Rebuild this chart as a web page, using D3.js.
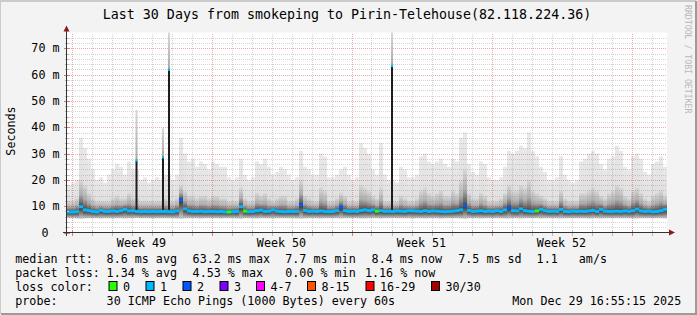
<!DOCTYPE html>
<html>
<head>
<meta charset="utf-8">
<script src="https://cdn.jsdelivr.net/npm/d3@7"></script>
<style>
  html, body { margin: 0; padding: 0; background: #f3f3f3; }
  svg text { font-family: "DejaVu Sans Mono", monospace; }
</style>
</head>
<body>
<svg id="chart" width="697" height="315"></svg>
<script>
// 150 consolidated columns over 30 days (ms)
const maxPing = [
  18,19,20,36,32,28,24,20,21,19, 22,24,26,25,22,27,24,24,20,21,
  19,20,21,20,22,22,20,22,36,30, 27,28,25,27,26,24,27,26,25,25,
  21,20,21,28,22,20,21,27,26,28, 25,22,23,25,24,22,20,21,31,25,
  24,22,22,30,29,21,21,22,24,25, 22,20,21,34,32,30,24,22,34,22,
  20,20,19,25,24,21,21,22,29,30, 27,26,27,28,26,25,28,27,36,38,
  26,23,22,27,26,21,20,20,21,25, 31,30,31,33,32,38,31,29,25,23,
  20,20,21,29,22,20,19,20,27,28, 30,31,30,26,24,28,29,33,31,25,
  24,29,30,28,23,22,26,27,29,25
];
const midPing = [
  12,12,13,20,18,15,13,12,12,12, 12,13,14,13,13,15,13,13,12,12,
  12,12,12,12,13,12,12,13,18,16, 14,14,13,14,14,13,14,14,13,13,
  12,12,12,17,13,12,12,15,14,15, 13,12,13,14,14,12,12,13,20,14,
  13,12,12,17,16,12,12,13,15,14, 12,12,12,18,17,16,14,13,17,12,
  12,12,12,14,13,12,12,13,16,17, 15,14,15,16,14,14,16,15,20,24,
  15,13,13,15,14,12,12,12,13,15, 18,16,16,18,17,20,16,15,14,13,
  12,12,12,16,13,12,12,12,15,15, 16,17,16,14,13,15,16,18,17,14,
  13,16,17,15,13,12,14,15,16,14
];
const medianPing = [
  7.8,7.8,7.9,9.8,8.6,8.3,8.0,7.8,8.4,8.0, 8.0,8.2,8.0,8.3,8.8,8.2,8.3,8.0,7.9,8.0,
  7.9,8.0,7.9,8.0,8.0,7.9,7.8,8.2,12.5,9.0, 8.2,8.0,8.0,8.1,7.9,8.0,8.0,7.9,8.0,7.8,
  7.8,7.9,8.0,9.8,8.1,7.9,8.0,8.3,8.5,8.0, 8.1,8.6,8.1,8.0,7.9,8.0,8.0,8.0,10.5,8.4,
  8.0,8.1,8.0,8.2,8.0,7.9,8.0,8.3,9.6,8.3, 8.0,8.1,8.0,8.4,8.6,8.3,8.6,8.1,8.3,8.0,
  8.1,8.0,8.2,8.1,8.0,8.3,8.2,8.1,8.0,8.3, 8.0,8.2,8.1,8.0,7.9,8.0,8.1,8.3,8.6,10.2,
  8.4,8.0,8.1,8.3,8.0,8.1,8.0,8.3,8.0,8.6, 9.4,8.3,8.2,9.0,8.3,8.1,8.0,8.2,8.8,8.3,
  8.0,8.1,8.0,8.8,8.0,7.9,8.1,8.0,8.1,8.0, 8.2,8.4,8.0,8.8,8.1,8.0,8.0,8.1,8.0,8.2,
  8.0,8.3,8.9,8.2,8.0,8.1,7.9,8.0,8.3,8.8
];
const minPing = [
  5.4,5.4,5.3,5.2,5.3,5.4,5.4,5.4,5.3,5.4, 5.4,5.3,5.4,5.4,5.3,5.4,5.4,5.5,5.4,5.4,
  5.4,5.3,5.4,5.4,5.4,5.4,5.4,5.3,5.2,5.3, 5.4,5.4,5.4,5.3,5.4,5.4,5.4,5.4,5.3,5.4,
  5.4,5.4,5.3,5.2,5.4,5.4,5.4,5.3,5.4,5.4, 5.4,5.3,5.4,5.4,5.4,5.4,5.4,5.3,5.2,5.3,
  5.4,5.4,5.4,5.3,5.4,5.4,5.4,5.4,5.3,5.4, 5.4,5.4,5.4,5.3,5.3,5.4,5.4,5.4,5.3,5.4,
  5.4,5.5,5.4,5.4,5.4,5.4,5.3,5.4,5.4,5.3, 5.4,5.4,5.4,5.3,5.4,5.4,5.4,5.4,5.3,5.2,
  5.4,5.4,5.4,5.3,5.4,5.4,5.4,5.4,5.4,5.3, 5.3,5.4,5.4,5.3,5.4,5.4,5.4,5.4,5.3,5.4,
  5.4,5.4,5.4,5.3,5.4,5.4,5.4,5.4,5.4,5.4, 5.3,5.4,5.4,5.3,5.4,5.4,5.4,5.4,5.4,5.4,
  5.4,5.3,5.3,5.4,5.4,5.4,5.4,5.4,5.4,5.3
];
// lost pings (of 30) per column
const lossCount = [
  1,1,1,1,1,1,1,1,1,1, 1,1,1,1,1,1,1,1,1,1,
  1,1,1,1,1,1,1,1,2,1, 1,1,1,1,1,1,1,1,1,1,
  0,1,1,1,0,1,1,1,1,1, 1,1,1,1,1,1,1,1,2,1,
  1,1,1,1,1,1,1,1,2,1, 1,1,1,1,1,1,1,0,1,1,
  1,1,1,1,1,1,1,1,1,1, 1,1,1,1,1,1,1,1,1,2,
  1,1,1,1,1,1,1,1,1,1, 2,1,1,1,1,1,1,0,1,1,
  1,1,1,1,1,1,1,1,1,1, 1,1,1,1,1,1,1,1,1,1,
  1,1,1,1,1,1,1,1,1,1
];
// narrow high-latency events (day offset from start)
const spikeDay = [3.475, 4.8, 5.1, 16.25];
const spikeMedian = [27.3, 28.5, 61.8, 63.2];
const spikeMax = [46.6, 39.6, 76, 76];

const weekLabels = ["Week 49", "Week 50", "Week 51", "Week 52"];
const yTickValues = [0, 10, 20, 30, 40, 50, 60, 70];
const lossLabels = ["0", "1", "2", "3", "4-7", "8-15", "16-29", "30/30"];
const lossColors = ["#26ff00", "#00b8ff", "#0059ff", "#7e00ff", "#ff00ff", "#ff5500", "#ff0000", "#a10000"];
const rttStats = ["8.6 ms avg", "63.2 ms max", "7.7 ms min", "8.4 ms now", "7.5 ms sd", "1.1   am/s"];
const lossStats = ["1.34 % avg", "4.53 % max", "0.00 % min", "1.16 % now"];
const probeText = "30 ICMP Echo Pings (1000 Bytes) every 60s";
const stampText = "Mon Dec 29 16:55:15 2025";
const titleText = "Last 30 Days from smokeping to Pirin-Telehouse(82.118.224.36)";

const W = 697, H = 315;
const svg = d3.select("#chart");
const keepSpaces = s => s.replace(/ /g, "\u00a0");

const x = d3.scaleLinear().domain([0, 30]).range([67, 667]);
const y = d3.scaleLinear().domain([0, 76]).range([232.5, 32.5]);
const colDays = 30 / maxPing.length;
const firstDay = 0.225; // first midnight after start

// gradients for the smoke
const defs = svg.append("defs");
function grad(id, stops) {
  const g = defs.append("linearGradient").attr("id", id)
    .attr("x1", 0).attr("y1", 1).attr("x2", 0).attr("y2", 0);
  stops.forEach(s => g.append("stop").attr("offset", s[0]).attr("stop-color", s[1]));
}
grad("lightSmoke", [[0, "#d6d6d6"], [0.4, "#e0e0e0"], [1, "#e9e9e9"]]);
grad("upperSmoke", [[0, "#404040"], [0.15, "#6a6a6a"], [0.45, "#aeaeae"], [1, "#d8d8d8"]]);
grad("lowerSmoke", [[0, "#d0d0d0"], [0.55, "#707070"], [1, "#303030"]]);
grad("spikeSmoke", [[0, "#a8a8a8"], [1, "#d8d8d8"]]);

// background and frame
svg.append("rect").attr("width", W).attr("height", H).attr("fill", "#f3f3f3");
svg.append("path").attr("d", `M0,${H - 1}V1H${W - 1}`).attr("stroke", "#cbcbcb").attr("stroke-width", 2).attr("fill", "none");
svg.append("path").attr("d", `M1,${H - 1}H${W - 1}V1`).attr("stroke", "#9b9b9b").attr("stroke-width", 2).attr("fill", "none");

// plot canvas
svg.append("rect").attr("x", x(0)).attr("y", y(76)).attr("width", x(30) - x(0)).attr("height", y(0) - y(76)).attr("fill", "#ffffff");

// smoke
const cols = svg.append("g").selectAll("g").data(d3.range(maxPing.length)).join("g");
cols.append("rect")
  .attr("x", i => x(i * colDays)).attr("width", i => x((i + 1) * colDays) - x(i * colDays))
  .attr("y", i => y(maxPing[i])).attr("height", i => y(medianPing[i]) - y(maxPing[i]))
  .attr("fill", "url(#lightSmoke)");
cols.append("rect")
  .attr("x", i => x(i * colDays)).attr("width", i => x((i + 1) * colDays) - x(i * colDays))
  .attr("y", i => y(midPing[i])).attr("height", i => y(medianPing[i]) - y(midPing[i]))
  .attr("fill", "url(#upperSmoke)");
cols.append("rect")
  .attr("x", i => x(i * colDays)).attr("width", i => x((i + 1) * colDays) - x(i * colDays))
  .attr("y", i => y(medianPing[i])).attr("height", i => y(minPing[i]) - y(medianPing[i]))
  .attr("fill", "url(#lowerSmoke)");

// grid
const grid = svg.append("g").attr("shape-rendering", "crispEdges");
const minorY = d3.range(2, 76, 2).filter(v => v % 10 !== 0);
const majorY = d3.range(10, 76, 10);
const dayLines = d3.range(firstDay, 30, 1);
const weekLines = d3.range(firstDay, 30, 7);
const minorCol = "rgba(140,140,140,0.38)", majorCol = "rgba(205,40,40,0.38)";
grid.selectAll(".hmin").data(minorY).join("line")
  .attr("x1", x(0)).attr("x2", x(30)).attr("y1", v => Math.round(y(v)) + 0.5).attr("y2", v => Math.round(y(v)) + 0.5)
  .attr("stroke", minorCol).attr("stroke-dasharray", "1,1");
grid.selectAll(".vmin").data(dayLines.filter(d => !weekLines.includes(d))).join("line")
  .attr("x1", d => Math.round(x(d)) + 0.5).attr("x2", d => Math.round(x(d)) + 0.5).attr("y1", y(0)).attr("y2", y(76))
  .attr("stroke", minorCol).attr("stroke-dasharray", "1,1");
grid.selectAll(".hmaj").data(majorY).join("line")
  .attr("x1", x(0)).attr("x2", x(30)).attr("y1", v => Math.round(y(v)) + 0.5).attr("y2", v => Math.round(y(v)) + 0.5)
  .attr("stroke", majorCol).attr("stroke-dasharray", "1,1");
grid.selectAll(".vmaj").data(weekLines).join("line")
  .attr("x1", d => Math.round(x(d)) + 0.5).attr("x2", d => Math.round(x(d)) + 0.5).attr("y1", y(0)).attr("y2", y(76))
  .attr("stroke", majorCol).attr("stroke-dasharray", "1,1");

// median line coloured by loss
svg.append("g").selectAll("rect").data(d3.range(medianPing.length)).join("rect")
  .attr("x", i => x(i * colDays)).attr("width", i => x((i + 1) * colDays) - x(i * colDays))
  .attr("y", i => y(medianPing[i]) - 1.5).attr("height", 3)
  .attr("fill", i => lossColors[lossCount[i]]);

// spikes
const spikes = svg.append("g").selectAll("g").data(d3.range(spikeDay.length)).join("g");
spikes.append("rect")
  .attr("x", i => x(spikeDay[i]) - 1).attr("width", 2)
  .attr("y", i => y(spikeMax[i])).attr("height", i => y(spikeMedian[i]) - y(spikeMax[i]))
  .attr("fill", "url(#spikeSmoke)");
spikes.append("rect")
  .attr("x", i => x(spikeDay[i]) - 1).attr("width", 2)
  .attr("y", i => y(spikeMedian[i])).attr("height", i => y(8.6) - y(spikeMedian[i]))
  .attr("fill", "#1e1e1e");
spikes.append("rect")
  .attr("x", i => x(spikeDay[i]) - 1).attr("width", 2)
  .attr("y", i => y(spikeMedian[i]) - 1.5).attr("height", 2.5)
  .attr("fill", lossColors[1]);

// axes
const axis = svg.append("g").attr("shape-rendering", "crispEdges");
axis.selectAll(".yt").data(d3.range(0, 76, 2)).join("line")
  .attr("x1", v => v % 10 === 0 ? 64 : 65).attr("x2", v => v % 10 === 0 ? 70 : 69)
  .attr("y1", v => Math.round(y(v)) + 0.5).attr("y2", v => Math.round(y(v)) + 0.5)
  .attr("stroke", v => v % 10 === 0 ? "#d08080" : "#bbbbbb");
axis.selectAll(".xt").data(dayLines).join("line")
  .attr("x1", d => Math.round(x(d)) + 0.5).attr("x2", d => Math.round(x(d)) + 0.5)
  .attr("y1", 230).attr("y2", 236)
  .attr("stroke", d => weekLines.includes(d) ? "#d08080" : "#bbbbbb");
axis.append("line").attr("x1", 66.5).attr("x2", 66.5).attr("y1", 236).attr("y2", 30).attr("stroke", "#333");
axis.append("line").attr("x1", 63).attr("x2", 671).attr("y1", 232.5).attr("y2", 232.5).attr("stroke", "#333");
svg.append("path").attr("d", "M63.5,31.5L66.5,25.5L69.5,31.5Z").attr("fill", "#8b1a1a");
svg.append("path").attr("d", "M669,229.5L675,232.5L669,235.5Z").attr("fill", "#8b1a1a");

// y labels
svg.append("g").selectAll("text").data(yTickValues).join("text")
  .attr("x", v => v === 0 ? 48.5 : 59.5).attr("y", v => y(v) + 4.2)
  .attr("text-anchor", "end").attr("font-size", "11.7px").attr("fill", "#000")
  .text(v => v === 0 ? "0" : v + " m");

// x labels
svg.append("g").selectAll("text").data(weekLabels).join("text")
  .attr("x", (d, i) => x(firstDay + 7 * i + 3.5)).attr("y", 246.8)
  .attr("text-anchor", "middle").attr("font-size", "11.7px").attr("fill", "#000")
  .text(d => d);

// title and axis title
svg.append("text").attr("x", 347).attr("y", 18.5).attr("text-anchor", "middle")
  .attr("font-size", "13.3px").attr("fill", "#000").text(titleText);
svg.append("text").attr("transform", "translate(14.5,131) rotate(-90)").attr("text-anchor", "middle")
  .attr("font-size", "11.7px").attr("fill", "#000").text("Seconds");
svg.append("text").attr("transform", "translate(684.5,5) rotate(90)")
  .attr("font-size", "8.2px").attr("fill", "#b8b8b8").text("RRDTOOL / TOBI OETIKER");

// legend
const leg = svg.append("g").attr("font-size", "11.7px").attr("fill", "#000");
const rttX = [106.6, 192.6, 285.3, 371.6, 458.3, 536.6];
const lossX = [106.6, 192.6, 285.3, 365];
leg.append("text").attr("x", 15.3).attr("y", 263.3).text("median rtt:");
leg.selectAll(".r").data(rttStats).join("text").attr("x", (d, i) => rttX[i]).attr("y", 263.3).text(d => keepSpaces(d));
leg.append("text").attr("x", 15.3).attr("y", 277).text("packet loss:");
leg.selectAll(".l").data(lossStats).join("text").attr("x", (d, i) => lossX[i]).attr("y", 277).text(d => d);
leg.append("text").attr("x", 15.3).attr("y", 290.8).text("loss color:");
const boxX = [108.5, 145.5, 182.5, 219.5, 256, 307, 365.5, 431];
const lc = leg.selectAll(".c").data(lossLabels).join("g");
lc.append("rect").attr("x", (d, i) => boxX[i] + 0.5).attr("y", 281.5).attr("width", 8).attr("height", 9)
  .attr("fill", (d, i) => lossColors[i]).attr("stroke", "#000");
lc.append("text").attr("x", (d, i) => boxX[i] + 14.5).attr("y", 290.8).text(d => d);
leg.append("text").attr("x", 15.3).attr("y", 304.6).text("probe:");
leg.append("text").attr("x", 106.6).attr("y", 304.6).text(probeText);
leg.append("text").attr("x", 512.3).attr("y", 304.6).text(stampText);
</script>
</body>
</html>
